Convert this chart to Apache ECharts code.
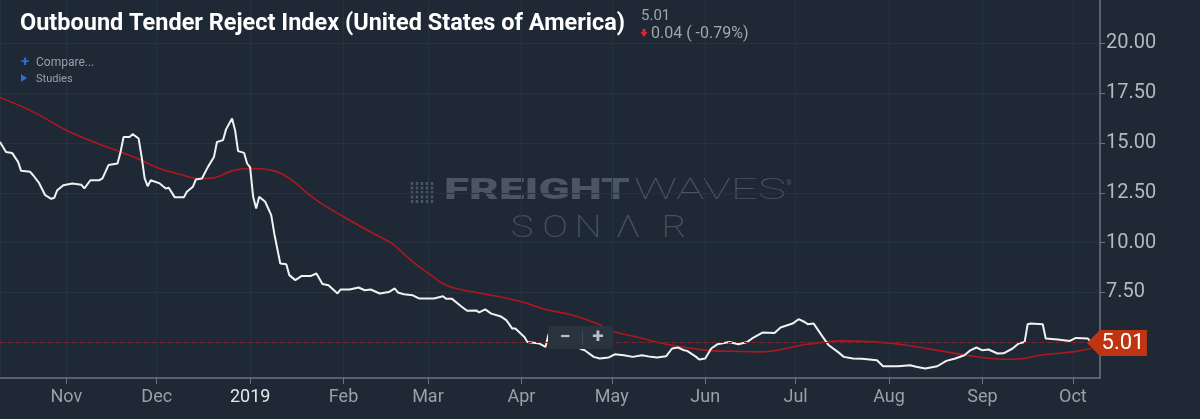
<!DOCTYPE html>
<html>
<head>
<meta charset="UTF-8">
<title>Outbound Tender Reject Index</title>
<style>
  html, body { margin: 0; padding: 0; background: #1e2935; }
  #chart { width: 1200px; height: 419px; }
</style>
<script src="https://cdn.jsdelivr.net/npm/echarts@6/dist/echarts.min.js"></script>
</head>
<body>
<div id="chart"></div>
<script>
// daily index (white line)
const indexDates = [
  '2018-10-10','2018-10-11','2018-10-12','2018-10-14','2018-10-16','2018-10-17','2018-10-20','2018-10-21',
  '2018-10-23','2018-10-25','2018-10-27','2018-10-28','2018-10-29','2018-10-31','2018-11-03','2018-11-06',
  '2018-11-07','2018-11-09','2018-11-12','2018-11-13','2018-11-15','2018-11-18','2018-11-19','2018-11-20',
  '2018-11-22','2018-11-23','2018-11-25','2018-11-26','2018-11-27','2018-11-28','2018-11-29','2018-12-02',
  '2018-12-04','2018-12-05','2018-12-07','2018-12-10','2018-12-11','2018-12-13','2018-12-14','2018-12-16',
  '2018-12-18','2018-12-20','2018-12-21','2018-12-23','2018-12-24','2018-12-26','2018-12-27','2018-12-28',
  '2018-12-30','2018-12-31','2019-01-01','2019-01-02','2019-01-03','2019-01-04','2019-01-06','2019-01-08',
  '2019-01-09','2019-01-11','2019-01-13','2019-01-14','2019-01-16','2019-01-18','2019-01-21','2019-01-23',
  '2019-01-25','2019-01-27','2019-01-30','2019-01-31','2019-02-03','2019-02-06','2019-02-08','2019-02-10',
  '2019-02-13','2019-02-16','2019-02-18','2019-02-19','2019-02-21','2019-02-24','2019-02-26','2019-03-03',
  '2019-03-06','2019-03-07','2019-03-09','2019-03-12','2019-03-14','2019-03-17','2019-03-18','2019-03-20',
  '2019-03-22','2019-03-25','2019-03-27','2019-03-29','2019-03-30','2019-04-02','2019-04-03','2019-04-07',
  '2019-04-09','2019-04-10','2019-04-13','2019-04-17','2019-04-21','2019-04-22','2019-04-25','2019-04-27',
  '2019-04-30','2019-05-02','2019-05-05','2019-05-08','2019-05-11','2019-05-14','2019-05-16','2019-05-19',
  '2019-05-21','2019-05-23','2019-05-25','2019-05-26','2019-05-29','2019-05-30','2019-06-01','2019-06-03',
  '2019-06-05','2019-06-09','2019-06-12','2019-06-15','2019-06-17','2019-06-20','2019-06-24','2019-06-26',
  '2019-06-30','2019-07-02','2019-07-04','2019-07-05','2019-07-07','2019-07-10','2019-07-12','2019-07-15',
  '2019-07-17','2019-07-20','2019-07-23','2019-07-28','2019-07-30','2019-08-04','2019-08-08','2019-08-10',
  '2019-08-13','2019-08-17','2019-08-20','2019-08-23','2019-08-26','2019-08-28','2019-08-30','2019-09-01',
  '2019-09-03','2019-09-06','2019-09-08','2019-09-11','2019-09-13','2019-09-15','2019-09-16','2019-09-17',
  '2019-09-21','2019-09-22','2019-09-26','2019-09-30','2019-10-02','2019-10-06','2019-10-07'
];
const indexValues = [
  15.05, 14.8, 14.55, 14.5, 14.05, 13.6, 13.55, 13.38,
  12.98, 12.38, 12.2, 12.25, 12.63, 12.88, 12.97, 12.9,
  12.72, 13.13, 13.13, 13.22, 13.89, 13.97, 14.55, 15.3,
  15.3, 15.44, 15.22, 14.3, 13.22, 12.83, 13.13, 12.97,
  12.72, 12.75, 12.27, 12.27, 12.55, 12.8, 13.17, 13.22,
  13.8, 14.3, 15.05, 15.14, 15.68, 16.23, 15.64, 14.59,
  14.5, 13.97, 13.77, 12.3, 11.71, 12.3, 12.05, 11.38,
  10.46, 8.95, 8.92, 8.37, 8.12, 8.32, 8.32, 8.45,
  7.92, 7.86, 7.45, 7.65, 7.65, 7.75, 7.61, 7.65,
  7.45, 7.52, 7.7, 7.5, 7.41, 7.36, 7.2, 7.2,
  7.31, 7.18, 7.18, 6.81, 6.58, 6.6, 6.5, 6.65,
  6.44, 6.31, 6.11, 5.69, 5.69, 5.27, 5.02, 4.94,
  4.77, 5.41, 5.2, 5.0, 4.65, 4.6, 4.27, 4.19,
  4.24, 4.4, 4.35, 4.27, 4.35, 4.27, 4.24, 4.3,
  4.69, 4.74, 4.6, 4.57, 4.27, 4.14, 4.19, 4.69,
  4.9, 5.02, 4.9, 5.02, 5.24, 5.49, 5.47, 5.74,
  5.94, 6.16, 6.02, 5.91, 5.94, 5.27, 4.85, 4.52,
  4.27, 4.19, 4.17, 4.1, 3.8, 3.8, 3.85, 3.77,
  3.69, 3.8, 4.07, 4.19, 4.35, 4.6, 4.74, 4.6,
  4.64, 4.44, 4.45, 4.69, 4.94, 5.02, 5.91, 5.94,
  5.91, 5.19, 5.14, 5.07, 5.22, 5.19, 5.01
];

// moving average (red line)
const avgDates = [
  '2018-10-10','2018-10-21','2018-11-01','2018-11-12','2018-11-19','2018-11-25','2018-12-02','2018-12-09',
  '2018-12-15','2018-12-20','2018-12-26','2019-01-01','2019-01-09','2019-01-14','2019-01-23','2019-02-02',
  '2019-02-12','2019-02-17','2019-02-24','2019-03-02','2019-03-07','2019-03-13','2019-03-22','2019-04-01',
  '2019-04-09','2019-04-18','2019-04-26','2019-05-01','2019-05-10','2019-05-19','2019-05-28','2019-06-04',
  '2019-06-10','2019-06-19','2019-07-05','2019-07-16','2019-07-27','2019-08-07','2019-08-18','2019-08-29',
  '2019-09-09','2019-09-15','2019-09-20','2019-10-01','2019-10-07'
];
const avgValues = [
  17.28, 16.56, 15.64, 14.94, 14.55, 14.19, 13.72, 13.42,
  13.22, 13.25, 13.6, 13.72, 13.6, 13.22, 12.13, 11.21,
  10.37, 9.96, 9.03, 8.37, 7.86, 7.61, 7.36, 7.03,
  6.65, 6.36, 5.94, 5.57, 5.24, 4.9, 4.69, 4.57,
  4.55, 4.52, 4.9, 5.07, 5.02, 4.85, 4.57, 4.3,
  4.15, 4.19, 4.35, 4.52, 4.69
];

const yTicks = [5, 7.5, 10, 12.5, 15, 17.5, 20];
const yLabels = [7.5, 10, 12.5, 15, 17.5, 20];
const monthNames = ['Jan','Feb','Mar','Apr','May','Jun','Jul','Aug','Sep','Oct','Nov','Dec'];
const lastDate = '2019-10-07';
const lastValue = 5.01;
const changeText = '0.04 ( -0.79%)';
const titleText = 'Outbound Tender Reject Index (United States of America)';

const FONT = 'Roboto, "Noto Sans", sans-serif';
const WM = '#4b5662';

// horizontal squeeze/stretch so a text run fills a given width
const measureCtx = document.createElement('canvas').getContext('2d');
function fitX(text, font, width) {
  measureCtx.font = font;
  return width / measureCtx.measureText(text).width;
}

function stretched(text, x, y, font, width, color) {
  return {
    type: 'text', x: x, y: y, z: 0, silent: true, scaleX: fitX(text, font, width),
    style: { text: text, font: font, fill: color, align: 'left', verticalAlign: 'middle' }
  };
}

const sonarLetters = ['S', 'O', 'N', 'Λ', 'R'];
const sonarCenters = [522, 555, 588, 628, 674];
const sonarFont = '200 32px ' + FONT;
const sonar = sonarLetters.map((ch, i) => ({
  type: 'text', x: sonarCenters[i], y: 229, z: 0, silent: true, scaleX: 1.2,
  style: { text: ch, font: sonarFont, fill: '#46515c', align: 'center', verticalAlign: 'middle' }
}));

const logoBars = [0, 5, 10, 15, 20].map(dx => ({
  type: 'line', silent: true, z: 0,
  shape: { x1: 412 + dx, y1: 182, x2: 412 + dx, y2: 203 },
  style: { stroke: WM, lineWidth: 2.5, lineDash: [3, 1.5] }
}));

const titleFont = 'bold 23px ' + FONT;

const chart = echarts.init(document.getElementById('chart'));
chart.setOption({
  backgroundColor: '#1e2935',
  animation: false,
  grid: { left: 0, right: 100, top: 0, bottom: 41 },
  xAxis: {
    type: 'time',
    min: '2018-10-10',
    max: '2019-10-10',
    splitNumber: 12,
    axisLine: { show: true, lineStyle: { color: '#6b7580', width: 1.5 } },
    axisTick: { show: true, length: 6, lineStyle: { color: '#6b7580' } },
    splitLine: { show: true, lineStyle: { color: '#263240', width: 1 } },
    axisLabel: {
      showMinLabel: false,
      showMaxLabel: false,
      margin: 10,
      color: '#98a1a9',
      fontSize: 18,
      fontFamily: FONT,
      formatter: function (v) {
        const d = new Date(v);
        if (d.getMonth() === 0) return '{y|' + d.getFullYear() + '}';
        return monthNames[d.getMonth()];
      },
      rich: { y: { color: '#e6e8ea', fontSize: 18, fontFamily: FONT } }
    }
  },
  yAxis: {
    type: 'value',
    position: 'right',
    min: 3.21,
    max: 22.17,
    axisLine: { show: true, lineStyle: { color: '#6b7580', width: 1.5 } },
    axisTick: { show: true, length: 5, customValues: yTicks, lineStyle: { color: '#6b7580' } },
    splitLine: { show: true, lineStyle: { color: '#263240', width: 1 } },
    axisLabel: {
      customValues: yLabels,
      margin: 6,
      color: '#b2b9bf',
      fontSize: 20,
      fontFamily: FONT,
      formatter: v => v.toFixed(2)
    }
  },
  series: [
    {
      name: 'Average',
      type: 'line',
      data: avgDates.map((d, i) => [d, avgValues[i]]),
      showSymbol: false,
      smooth: 0.4,
      silent: true,
      z: 2,
      lineStyle: { color: '#b0171d', width: 1.6 }
    },
    {
      name: 'Outbound Tender Reject Index',
      type: 'line',
      data: indexDates.map((d, i) => [d, indexValues[i]]),
      showSymbol: false,
      silent: true,
      z: 3,
      lineStyle: { color: '#f2f2f2', width: 2 },
      markLine: {
        silent: true,
        symbol: 'none',
        label: { show: false },
        lineStyle: { color: '#8c1d20', type: [4, 4], width: 1 },
        data: [{ yAxis: lastValue }]
      },
      markPoint: {
        silent: true,
        symbol: 'path://M0,13L13,0L60,0L60,26L13,26Z',
        symbolSize: [60, 26],
        symbolOffset: [26, 1],
        itemStyle: { color: '#bf3511' },
        label: {
          show: true, position: 'inside', offset: [6, 0],
          color: '#ffffff', fontSize: 22, fontFamily: FONT,
          formatter: lastValue.toFixed(2)
        },
        data: [{ coord: [lastDate, lastValue] }]
      }
    }
  ],
  graphic: [
    // watermark
    ...logoBars,
    stretched('FREIGHT', 444, 192, '900 29px ' + FONT, 186, WM),
    stretched('WAVES', 634, 192, '100 29px ' + FONT, 152, WM),
    { type: 'text', x: 789, y: 183, silent: true, style: { text: '®', font: '7px ' + FONT, fill: WM, align: 'center', verticalAlign: 'middle' } },
    ...sonar,
    // header
    { type: 'text', x: 20, y: 24, z: 10, silent: true, scaleX: fitX(titleText, titleFont, 605),
      style: { text: titleText, font: titleFont, fill: '#ffffff', align: 'left', verticalAlign: 'middle' } },
    { type: 'text', x: 641, y: 16, z: 10, silent: true,
      style: { text: lastValue.toFixed(2), font: '15px ' + FONT, fill: '#9ea6ae', align: 'left', verticalAlign: 'middle' } },
    { type: 'polygon', z: 10, silent: true,
      shape: { points: [[642.5, 29], [645.5, 29], [645.5, 32], [647.5, 32], [644, 37], [640.5, 32], [642.5, 32]] },
      style: { fill: '#e0262b' } },
    { type: 'text', x: 651, y: 34, z: 10, silent: true,
      style: { text: changeText, font: '16px ' + FONT, fill: '#9ea6ae', align: 'left', verticalAlign: 'middle' } },
    { type: 'text', x: 25, y: 62, z: 10, silent: true,
      style: { text: '+', font: 'bold 15px ' + FONT, fill: '#2f6fd0', align: 'center', verticalAlign: 'middle' } },
    { type: 'text', x: 36, y: 63, z: 10, silent: true,
      style: { text: 'Compare...', font: '12px ' + FONT, fill: '#98a0a8', align: 'left', verticalAlign: 'middle' } },
    { type: 'polygon', z: 10, silent: true,
      shape: { points: [[21, 74], [27, 78], [21, 82]] },
      style: { fill: '#2f6fd0' } },
    { type: 'text', x: 36, y: 79, z: 10, silent: true,
      style: { text: 'Studies', font: '11px ' + FONT, fill: '#98a0a8', align: 'left', verticalAlign: 'middle' } },
    // zoom buttons, drawn over the lines
    { type: 'rect', z: 50, silent: true, shape: { x: 548, y: 326, width: 65, height: 23, r: 4 }, style: { fill: '#29343f' } },
    { type: 'line', z: 51, silent: true, shape: { x1: 582.5, y1: 330, x2: 582.5, y2: 345 }, style: { stroke: '#3d4853', lineWidth: 1 } },
    { type: 'text', z: 51, silent: true, x: 565, y: 337.5, style: { text: '−', font: 'bold 20px ' + FONT, fill: '#b9bfc5', align: 'center', verticalAlign: 'middle' } },
    { type: 'text', z: 51, silent: true, x: 598, y: 337.5, style: { text: '+', font: 'bold 21px ' + FONT, fill: '#b9bfc5', align: 'center', verticalAlign: 'middle' } }
  ]
});
</script>
</body>
</html>
